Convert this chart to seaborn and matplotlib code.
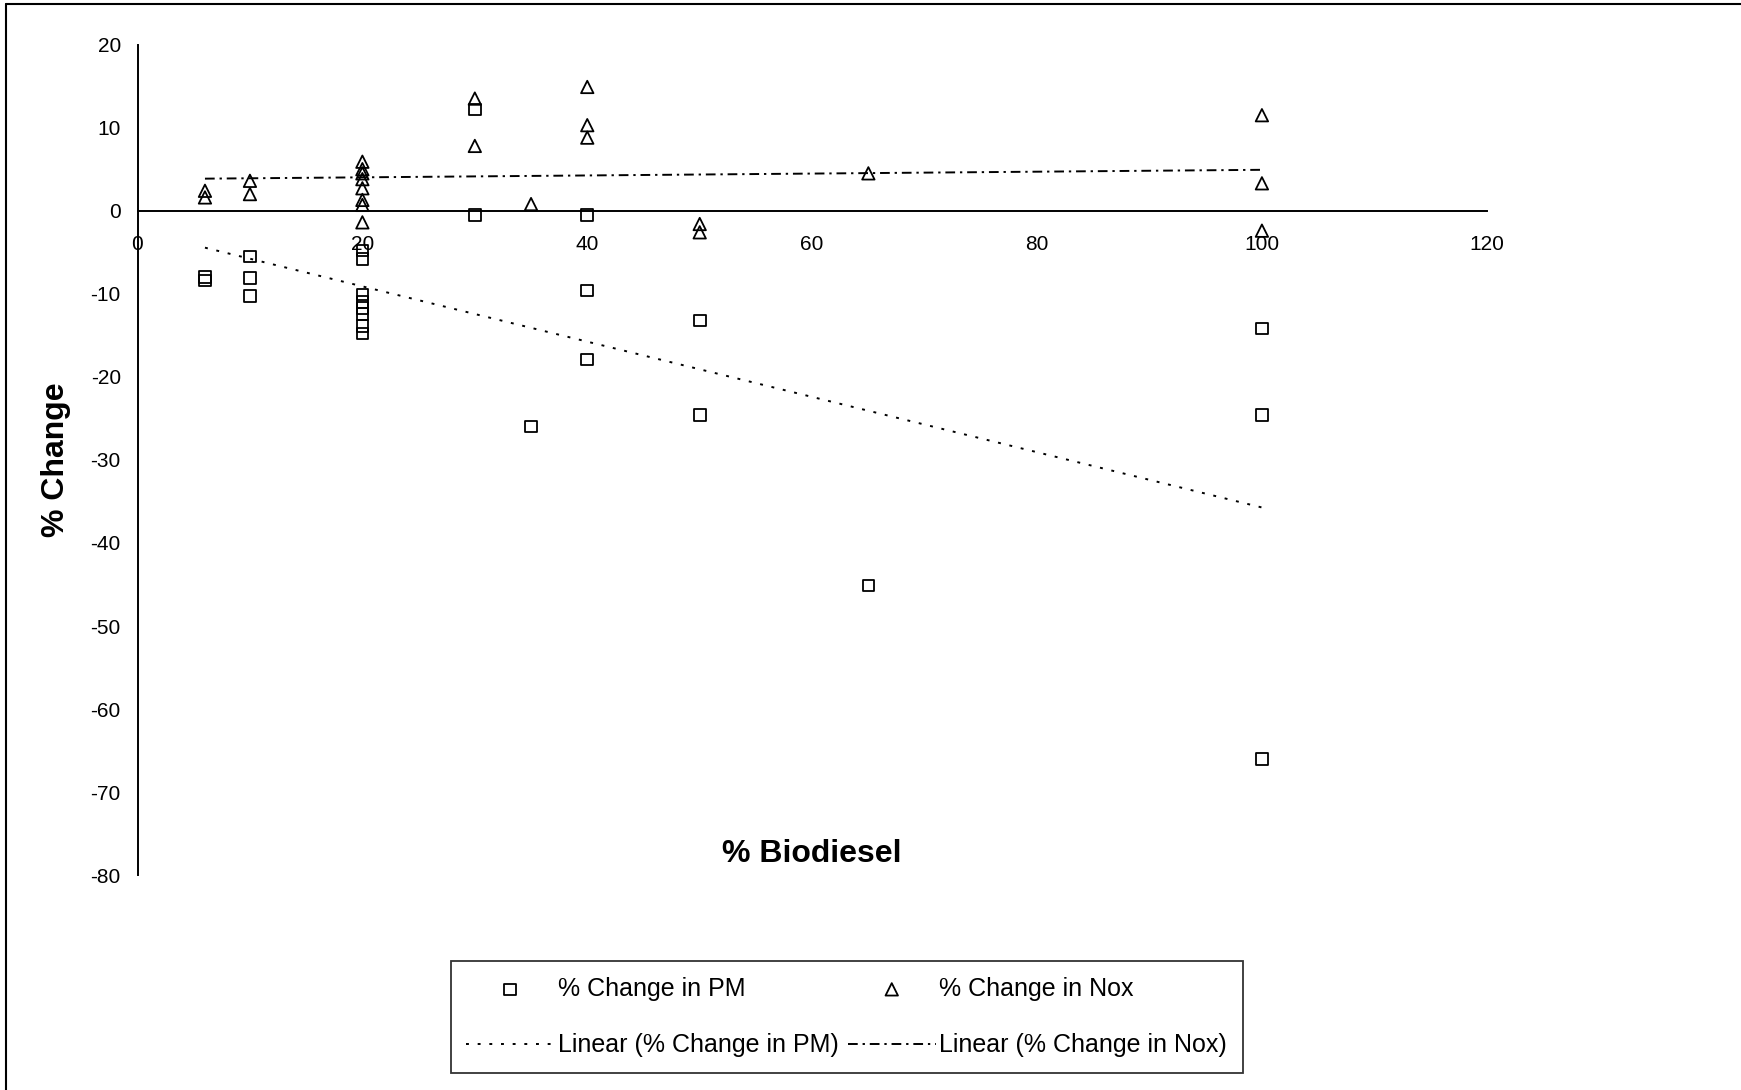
"""
Scatter of % change in PM and NOx against % biodiesel blend, with linear trend lines.
"""

import matplotlib
matplotlib.use("Agg")
import matplotlib.pyplot as plt
from matplotlib.lines import Line2D
import seaborn as sns
import pandas as pd

# Datos
pm_blend = [6, 6, 10, 10, 10, 20, 20, 20, 20, 20, 20, 20, 20,
            30, 30, 35, 40, 40, 40, 50, 50, 65, 100, 100, 100]
pm_change = [-8.0, -8.4, -5.5, -8.1, -10.3, -4.8, -5.8, -10.1, -11.0, -11.7, -12.4, -13.9, -14.8,
             12.2, -0.5, -26.0, -0.5, -9.6, -17.9, -13.2, -24.6, -45.1, -14.2, -24.6, -66.0]

nox_blend = [6, 6, 10, 10, 20, 20, 20, 20, 20, 20, 20, 20,
             30, 30, 35, 40, 40, 40, 50, 50, 65, 100, 100, 100]
nox_change = [2.4, 1.6, 3.6, 2.0, 5.9, 5.0, 4.5, 3.8, 2.7, 1.3, 0.7, -1.4,
              13.5, 7.8, 0.8, 14.9, 10.3, 8.8, -1.6, -2.6, 4.5, 11.5, 3.3, -2.4]

x_ticks = [0, 20, 40, 60, 80, 100, 120]
y_ticks = [-80, -70, -60, -50, -40, -30, -20, -10, 0, 10, 20]

pm = pd.DataFrame({"blend": pm_blend, "change": pm_change})
nox = pd.DataFrame({"blend": nox_blend, "change": nox_change})

sns.set_theme(style="white")
plt.rcParams["font.family"] = ["Liberation Sans", "DejaVu Sans"]
plt.rcParams["axes.unicode_minus"] = False
plt.rcParams["text.color"] = "black"
plt.rcParams["axes.labelcolor"] = "black"
plt.rcParams["xtick.color"] = "black"
plt.rcParams["ytick.color"] = "black"

W, H = 1741, 1090
fig = plt.figure(figsize=(W / 100, H / 100), dpi=100)
ax = fig.add_axes([137.5 / W, 1 - 875.2 / H, (1486.8 - 137.5) / W, (875.2 - 44.6) / H])

sns.scatterplot(data=pm, x="blend", y="change", marker="s", s=70,
                facecolor="none", edgecolor="black", linewidth=1.3,
                label="% Change in PM", ax=ax, zorder=3)
sns.regplot(data=pm, x="blend", y="change", scatter=False, ci=None, truncate=True,
            color="black", label="Linear (% Change in PM)", ax=ax,
            line_kws={"lw": 1.4, "ls": (0, (1.5, 4.5))})
sns.scatterplot(data=nox, x="blend", y="change", marker="^", s=80,
                facecolor="none", edgecolor="black", linewidth=1.3,
                label="% Change in Nox", ax=ax, zorder=3)
sns.regplot(data=nox, x="blend", y="change", scatter=False, ci=None, truncate=True,
            color="black", label="Linear (% Change in Nox)", ax=ax,
            line_kws={"lw": 1.4, "ls": (0, (5, 2.5, 1.2, 2.5))})

ax.set_xlim(0, 120)
ax.set_ylim(-80, 20)
ax.set_xticks(x_ticks)
ax.set_yticks(y_ticks)

# ejes estilo Excel: eje x cruza en y=0
for side in ["top", "right"]:
    ax.spines[side].set_visible(False)
ax.spines["bottom"].set_position(("data", 0))
ax.spines["bottom"].set_linewidth(1.4)
ax.spines["left"].set_linewidth(1.4)
ax.spines["bottom"].set_color("black")
ax.spines["left"].set_color("black")
ax.tick_params(axis="x", direction="inout", length=9.5, width=1.4, pad=13, labelsize=15)
ax.tick_params(axis="y", direction="out", length=5, width=1.4, pad=7, labelsize=15)
ax.grid(False)

ax.set_xlabel("% Biodiesel", fontsize=23, fontweight="bold")
ax.xaxis.set_label_coords(0.5, 0.026)
ax.xaxis.label.set_va("center")
ax.set_ylabel("% Change", fontsize=23, fontweight="bold")
ax.yaxis.set_label_coords(-0.0605, 0.5)
ax.yaxis.label.set_va("center")

handles, labels = ax.get_legend_handles_labels()
ax.get_legend().remove()
order = [labels.index(l) for l in ["% Change in PM", "Linear (% Change in PM)",
                                   "% Change in Nox", "Linear (% Change in Nox)"]]
leg = fig.legend([handles[i] for i in order], [labels[i] for i in order],
                 ncol=2, loc="center", mode="expand",
                 bbox_to_anchor=(450.8 / W, 1 - 1073.8 / H, (1242.5 - 450.8) / W, (1073.8 - 960.5) / H),
                 bbox_transform=fig.transFigure,
                 fontsize=18, frameon=True, fancybox=False, edgecolor="black",
                 handlelength=3.5, handletextpad=0.15, columnspacing=0.6,
                 borderpad=0.62, labelspacing=1.3, borderaxespad=0)
leg.get_frame().set_linewidth(1.3)

# marco exterior (solo izquierda y arriba visibles)
fig.add_artist(Line2D([6 / W, 6 / W], [0, 1 - 4 / H], transform=fig.transFigure,
                      color="black", lw=1.5))
fig.add_artist(Line2D([6 / W, 1], [1 - 4 / H, 1 - 4 / H], transform=fig.transFigure,
                      color="black", lw=1.5))

fig.savefig("out.png", dpi=100)
